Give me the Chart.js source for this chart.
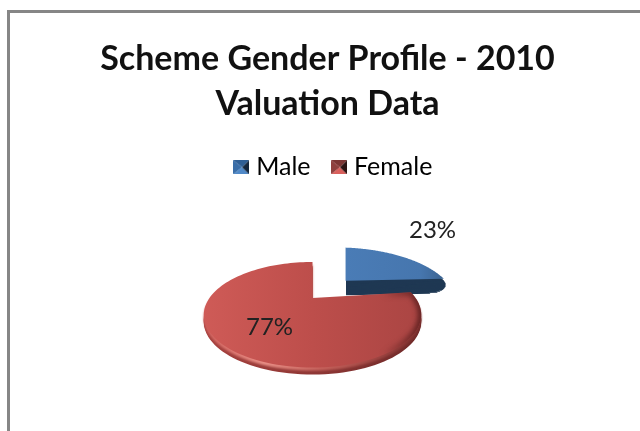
<!DOCTYPE html>
<html>
 <head>
  <title>Scheme Gender Profile</title>
  <meta charset="utf-8">
  <script src="https://cdn.jsdelivr.net/npm/chart.js"></script>
  <style>
    html, body { margin: 0; padding: 0; background: #ffffff; }
    #frame { position: absolute; left: 7px; top: 10px; right: 0; bottom: 0; border-left: 3px solid #868686; border-top: 3px solid #868686; }
    #myChart { position: absolute; left: 0; top: 0; filter: blur(0.5px); }
  </style>
 </head>
 <body>
  <div id="frame"></div>
  <canvas id="myChart" width="640" height="431"></canvas>
  <script type="text/javascript">
    const titleLines = ['Scheme Gender Profile - 2010', 'Valuation Data'];
    const categories = ['Male', 'Female'];
    const values = [23, 77];
    const sliceColors = ['#4a7cb6', '#bd4e4b'];

    // look of the tilted pie
    const tilt = 0.46, perspective = 0.32;
    const pieShiftX = -15;
    const labelOffsets = [[87, -50], [-43, 29]];

    function legendIcon(top, left, bottom, right) {
        var c = document.createElement('canvas');
        c.width = 16; c.height = 14;
        var g = c.getContext('2d');
        var tri = function (col, x1, y1, x2, y2) {
            g.fillStyle = col;
            g.beginPath(); g.moveTo(9, 7); g.lineTo(x1, y1); g.lineTo(x2, y2); g.closePath(); g.fill();
        };
        tri(top, 0, 0, 16, 0);
        tri(left, 0, 0, 0, 14);
        tri(bottom, 0, 14, 16, 14);
        tri(right, 16, 0, 16, 14);
        return c;
    }
    const icons = [legendIcon('#2f5f95', '#3a6ea8', '#5089c8', '#14263c'), legendIcon('#7c3533', '#8f403e', '#d9605c', '#2a1211')];

    // trace one slice, flattened with perspective so the near side looks bigger
    function slicePath(ctx, arc, cx, cy, scale) {
        var R = arc.outerRadius * (scale || 1);
        var pt = function (a) {
            var u = Math.sin(a + Math.PI / 2), v = Math.cos(a + Math.PI / 2);
            var w = 1 + perspective * v;
            return [cx + R * u / w, cy - R * tilt * v / w];
        };
        ctx.beginPath();
        ctx.moveTo(cx, cy);
        for (var i = 0; i <= 120; i++) {
            var p = pt(arc.startAngle + (arc.endAngle - arc.startAngle) * i / 120);
            ctx.lineTo(p[0], p[1]);
        }
        ctx.closePath();
    }

    const tiltedPie = {
        id: 'tiltedPie',
        afterLayout(chart) {
            chart.legend.left += 8;
            chart.legend.right += 8;
        },
        beforeDatasetsDraw(chart) {
            var ctx = chart.ctx;
            var arcs = chart.getDatasetMeta(0).data;
            var centers = arcs.map(function (arc) {
                var mid = (arc.startAngle + arc.endAngle) / 2;
                var off = arc.options.offset;
                return [arc.x + pieShiftX + off * Math.cos(mid), arc.y + off * Math.sin(mid) * tilt];
            });
            ctx.save();

            // male slice: sits flatter than the big one, dark rounded side under it
            var a = arcs[0], c = centers[0];
            ctx.save();
            ctx.translate(c[0], c[1]);
            ctx.transform(1, 0.035, 0, 0.92, 0, 0);
            ctx.fillStyle = '#1f3853';
            for (var d = 16; d > 0; d--) {
                var q = (d - 7) / 9;
                slicePath(ctx, a, 0.5, d, 0.86 + 0.16 * Math.sqrt(Math.max(0, 1 - q * q)));
                ctx.fill();
            }
            var blue = ctx.createLinearGradient(0, 0, 100, 0);
            blue.addColorStop(0, a.options.backgroundColor);
            blue.addColorStop(0.75, '#4676ae');
            blue.addColorStop(1, '#3a628f');
            ctx.fillStyle = blue;
            slicePath(ctx, a, 0, 0);
            ctx.fill();
            ctx.restore();

            // female slice with rounded bottom rim
            a = arcs[1]; c = centers[1];
            var rimDark = ctx.createLinearGradient(c[0] - 110, 0, c[0] + 110, 0);
            rimDark.addColorStop(0, '#a8423f');
            rimDark.addColorStop(0.5, '#8f3735');
            rimDark.addColorStop(1, '#6f2a29');
            ctx.fillStyle = rimDark;
            for (d = 7; d > 3; d--) {
                slicePath(ctx, a, c[0], c[1] + d);
                ctx.fill();
            }
            var rimLight = ctx.createLinearGradient(c[0] - 110, 0, c[0] + 110, 0);
            rimLight.addColorStop(0, '#cf605c');
            rimLight.addColorStop(0.28, '#e88f86');
            rimLight.addColorStop(0.55, '#c4605a');
            rimLight.addColorStop(1, '#7d2f2e');
            ctx.filter = 'blur(1.2px)';
            ctx.fillStyle = rimLight;
            slicePath(ctx, a, c[0], c[1] + 3);
            ctx.fill();
            ctx.filter = 'none';
            var face = ctx.createLinearGradient(c[0] - 110, 0, c[0] + 110, 0);
            face.addColorStop(0, '#cf5b57');
            face.addColorStop(0.5, a.options.backgroundColor);
            face.addColorStop(1, '#aa4543');
            ctx.fillStyle = face;
            slicePath(ctx, a, c[0], c[1]);
            ctx.fill();

            // darker edge that follows the outline on the right
            ctx.save();
            slicePath(ctx, a, c[0], c[1]);
            ctx.clip();
            var edge = ctx.createLinearGradient(c[0] + 70, 0, c[0] + 108, 0);
            edge.addColorStop(0, 'rgba(90,30,30,0)');
            edge.addColorStop(1, 'rgba(90,30,30,0.9)');
            ctx.filter = 'blur(2.5px)';
            ctx.strokeStyle = edge;
            ctx.lineWidth = 7;
            slicePath(ctx, a, c[0], c[1]);
            ctx.stroke();
            ctx.restore();

            // percent labels
            ctx.font = '24px Lato';
            ctx.fillStyle = '#222222';
            ctx.textAlign = 'center';
            ctx.textBaseline = 'middle';
            var total = values.reduce(function (s, v) { return s + v; }, 0);
            arcs.forEach(function (arc, i) {
                ctx.fillText(Math.round(values[i] / total * 100) + '%', centers[i][0] + labelOffsets[i][0], centers[i][1] + labelOffsets[i][1]);
            });
            ctx.restore();
            return false;
        }
    };

    var ctx = document.getElementById('myChart').getContext('2d');
    ctx.letterSpacing = '0.01px';
    ctx.textRendering = 'optimizeSpeed'; // keeps "fi" and "ti" as separate letters
    var myChart = new Chart(ctx, {
        type: 'pie',
        data: {
            labels: categories,
            datasets: [{ data: values, backgroundColor: sliceColors, offset: [50, 0], borderWidth: 0 }]
        },
        options: {
            responsive: false,
            animation: false,
            radius: 103,
            layout: { padding: { left: 15, right: 0, top: 37, bottom: 25 } },
            plugins: {
                tooltip: { enabled: false },
                title: {
                    display: true,
                    text: titleLines,
                    color: '#111111',
                    font: { family: 'Lato', size: 34, weight: 'bold', lineHeight: 1.32 },
                    padding: { top: 0, bottom: 2 }
                },
                legend: {
                    display: true,
                    labels: {
                        font: { family: 'Lato', size: 25 },
                        color: '#333333',
                        usePointStyle: true,
                        pointStyleWidth: 5,
                        padding: 26,
                        generateLabels: function () {
                            return categories.map(function (name, i) {
                                return { text: name, pointStyle: icons[i], fillStyle: sliceColors[i], strokeStyle: 'transparent', lineWidth: 0, index: i };
                            });
                        }
                    }
                }
            }
        },
        plugins: [tiltedPie]
    });
  </script>
 </body>
</html>
